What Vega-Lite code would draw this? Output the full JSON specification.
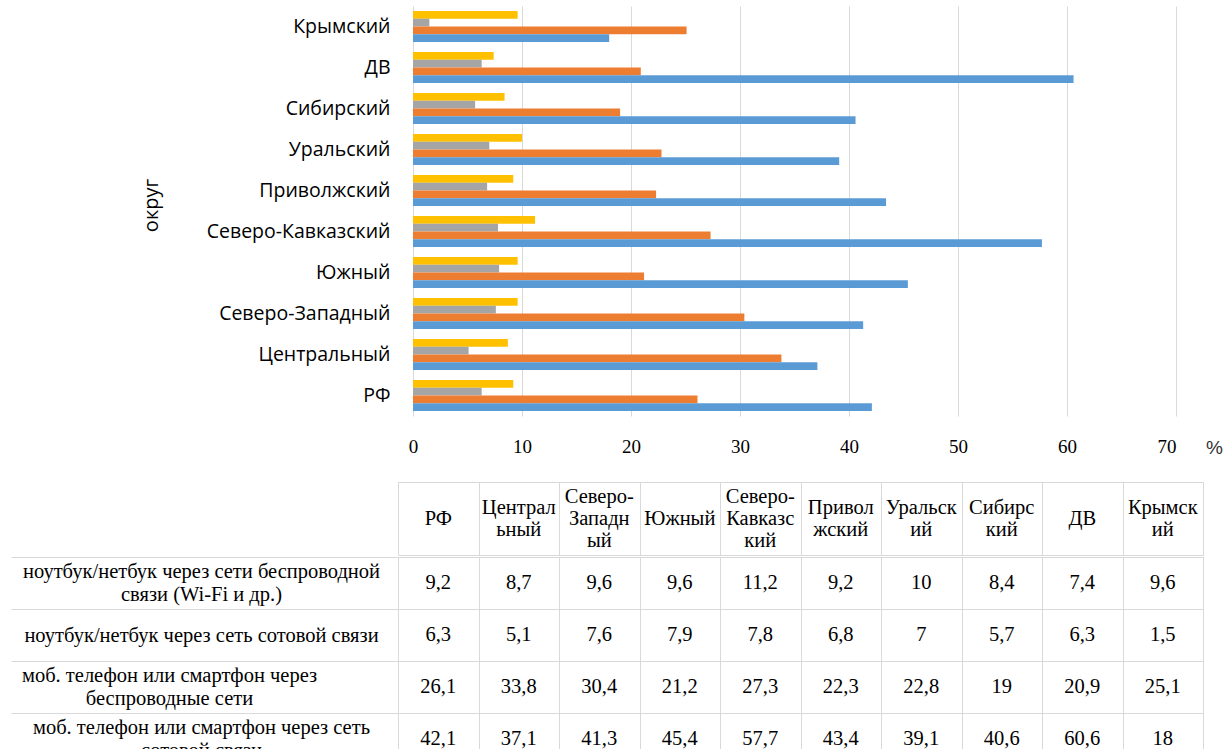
{
  "$schema": "https://vega.github.io/schema/vega-lite/v6.json",
  "padding": {"left": 10, "top": 6, "right": 0, "bottom": 0},
  "autosize": {"type": "pad"},
  "spacing": 0,
  "config": {
    "locale": {"number": {"decimal": ",", "thousands": " ", "grouping": [3], "currency": ["", ""]}},
    "view": {"stroke": null},
    "text": {"lineBreak": "\n"}
  },
  "datasets": {
    "main": [
      {"region": "РФ", "series": "ноутбук/нетбук через сети беспроводной\nсвязи (Wi-Fi и др.)", "value": 9.2},
      {"region": "РФ", "series": "ноутбук/нетбук через сеть сотовой связи", "value": 6.3},
      {"region": "РФ", "series": "моб. телефон или смартфон через\nбеспроводные сети", "value": 26.1},
      {"region": "РФ", "series": "моб. телефон или смартфон через сеть\nсотовой связи", "value": 42.1},
      {"region": "Центральный", "series": "ноутбук/нетбук через сети беспроводной\nсвязи (Wi-Fi и др.)", "value": 8.7},
      {"region": "Центральный", "series": "ноутбук/нетбук через сеть сотовой связи", "value": 5.1},
      {"region": "Центральный", "series": "моб. телефон или смартфон через\nбеспроводные сети", "value": 33.8},
      {"region": "Центральный", "series": "моб. телефон или смартфон через сеть\nсотовой связи", "value": 37.1},
      {"region": "Северо-Западный", "series": "ноутбук/нетбук через сети беспроводной\nсвязи (Wi-Fi и др.)", "value": 9.6},
      {"region": "Северо-Западный", "series": "ноутбук/нетбук через сеть сотовой связи", "value": 7.6},
      {"region": "Северо-Западный", "series": "моб. телефон или смартфон через\nбеспроводные сети", "value": 30.4},
      {"region": "Северо-Западный", "series": "моб. телефон или смартфон через сеть\nсотовой связи", "value": 41.3},
      {"region": "Южный", "series": "ноутбук/нетбук через сети беспроводной\nсвязи (Wi-Fi и др.)", "value": 9.6},
      {"region": "Южный", "series": "ноутбук/нетбук через сеть сотовой связи", "value": 7.9},
      {"region": "Южный", "series": "моб. телефон или смартфон через\nбеспроводные сети", "value": 21.2},
      {"region": "Южный", "series": "моб. телефон или смартфон через сеть\nсотовой связи", "value": 45.4},
      {"region": "Северо-Кавказский", "series": "ноутбук/нетбук через сети беспроводной\nсвязи (Wi-Fi и др.)", "value": 11.2},
      {"region": "Северо-Кавказский", "series": "ноутбук/нетбук через сеть сотовой связи", "value": 7.8},
      {"region": "Северо-Кавказский", "series": "моб. телефон или смартфон через\nбеспроводные сети", "value": 27.3},
      {"region": "Северо-Кавказский", "series": "моб. телефон или смартфон через сеть\nсотовой связи", "value": 57.7},
      {"region": "Приволжский", "series": "ноутбук/нетбук через сети беспроводной\nсвязи (Wi-Fi и др.)", "value": 9.2},
      {"region": "Приволжский", "series": "ноутбук/нетбук через сеть сотовой связи", "value": 6.8},
      {"region": "Приволжский", "series": "моб. телефон или смартфон через\nбеспроводные сети", "value": 22.3},
      {"region": "Приволжский", "series": "моб. телефон или смартфон через сеть\nсотовой связи", "value": 43.4},
      {"region": "Уральский", "series": "ноутбук/нетбук через сети беспроводной\nсвязи (Wi-Fi и др.)", "value": 10},
      {"region": "Уральский", "series": "ноутбук/нетбук через сеть сотовой связи", "value": 7},
      {"region": "Уральский", "series": "моб. телефон или смартфон через\nбеспроводные сети", "value": 22.8},
      {"region": "Уральский", "series": "моб. телефон или смартфон через сеть\nсотовой связи", "value": 39.1},
      {"region": "Сибирский", "series": "ноутбук/нетбук через сети беспроводной\nсвязи (Wi-Fi и др.)", "value": 8.4},
      {"region": "Сибирский", "series": "ноутбук/нетбук через сеть сотовой связи", "value": 5.7},
      {"region": "Сибирский", "series": "моб. телефон или смартфон через\nбеспроводные сети", "value": 19},
      {"region": "Сибирский", "series": "моб. телефон или смартфон через сеть\nсотовой связи", "value": 40.6},
      {"region": "ДВ", "series": "ноутбук/нетбук через сети беспроводной\nсвязи (Wi-Fi и др.)", "value": 7.4},
      {"region": "ДВ", "series": "ноутбук/нетбук через сеть сотовой связи", "value": 6.3},
      {"region": "ДВ", "series": "моб. телефон или смартфон через\nбеспроводные сети", "value": 20.9},
      {"region": "ДВ", "series": "моб. телефон или смартфон через сеть\nсотовой связи", "value": 60.6},
      {"region": "Крымский", "series": "ноутбук/нетбук через сети беспроводной\nсвязи (Wi-Fi и др.)", "value": 9.6},
      {"region": "Крымский", "series": "ноутбук/нетбук через сеть сотовой связи", "value": 1.5},
      {"region": "Крымский", "series": "моб. телефон или смартфон через\nбеспроводные сети", "value": 25.1},
      {"region": "Крымский", "series": "моб. телефон или смартфон через сеть\nсотовой связи", "value": 18}
    ],
    "regions": [
      {"region": "РФ", "header": "РФ"},
      {"region": "Центральный", "header": "Централ\nьный"},
      {"region": "Северо-Западный", "header": "Северо-\nЗападн\nый"},
      {"region": "Южный", "header": "Южный"},
      {"region": "Северо-Кавказский", "header": "Северо-\nКавказс\nкий"},
      {"region": "Приволжский", "header": "Привол\nжский"},
      {"region": "Уральский", "header": "Уральск\nий"},
      {"region": "Сибирский", "header": "Сибирс\nкий"},
      {"region": "ДВ", "header": "ДВ"},
      {"region": "Крымский", "header": "Крымск\nий"}
    ]
  },
  "vconcat": [
    {
      "width": 778,
      "height": 410,
      "data": {"name": "main"},
      "mark": {"type": "bar"},
      "encoding": {
        "y": {
          "field": "region",
          "type": "nominal",
          "sort": ["Крымский", "ДВ", "Сибирский", "Уральский", "Приволжский", "Северо-Кавказский", "Южный", "Северо-Западный", "Центральный", "РФ"],
          "scale": {"paddingInner": 0.24, "paddingOuter": 0.12},
          "axis": {
            "title": "округ",
            "titleFont": "Open Sans",
            "titleFontSize": 20,
            "titleFontWeight": "normal",
            "titleColor": "#000000",
            "titleX": -247,
            "titleY": 199,
            "titleAngle": -90,
            "titleAlign": "center",
            "titleBaseline": "middle",
            "labelFont": "Open Sans",
            "labelFontSize": 19.5,
            "labelColor": "#000000",
            "labelPadding": 8,
            "labelLimit": 0,
            "ticks": false,
            "domain": false,
            "grid": false
          }
        },
        "yOffset": {
          "field": "series",
          "type": "nominal",
          "sort": ["ноутбук/нетбук через сети беспроводной\nсвязи (Wi-Fi и др.)", "ноутбук/нетбук через сеть сотовой связи", "моб. телефон или смартфон через\nбеспроводные сети", "моб. телефон или смартфон через сеть\nсотовой связи"],
          "scale": {"paddingInner": 0, "paddingOuter": 0}
        },
        "x": {
          "field": "value",
          "type": "quantitative",
          "scale": {"domain": [-1.376, 70], "nice": false},
          "axis": {
            "values": [0, 10, 20, 30, 40, 50, 60, 70],
            "grid": true,
            "gridColor": "#D9D9D9",
            "domain": false,
            "ticks": false,
            "labelPadding": 21,
            "labelFont": "Liberation Sans Narrow",
            "labelFontSize": 19,
            "labelColor": "#000000",
            "title": "%",
            "titleX": 816,
            "titleY": 31,
            "titleAngle": 0,
            "titleAlign": "center",
            "titleBaseline": "middle",
            "titleFont": "Liberation Sans",
            "titleFontSize": 19,
            "titleFontWeight": "normal",
            "titleColor": "#333333"
          }
        },
        "color": {
          "field": "series",
          "type": "nominal",
          "scale": {
            "domain": ["ноутбук/нетбук через сети беспроводной\nсвязи (Wi-Fi и др.)", "ноутбук/нетбук через сеть сотовой связи", "моб. телефон или смартфон через\nбеспроводные сети", "моб. телефон или смартфон через сеть\nсотовой связи"],
            "range": ["#FFC000", "#A5A5A5", "#ED7D31", "#5B9BD5"]
          },
          "legend": null
        }
      }
    },
    {
      "width": 805,
      "height": 73,
      "data": {"name": "regions"},
      "view": {"stroke": "#D9D9D9"},
      "encoding": {
        "x": {
          "field": "region",
          "type": "nominal",
          "sort": ["РФ", "Центральный", "Северо-Западный", "Южный", "Северо-Кавказский", "Приволжский", "Уральский", "Сибирский", "ДВ", "Крымский"],
          "axis": {
            "orient": "top",
            "title": null,
            "labels": false,
            "domain": false,
            "ticks": true,
            "tickSize": 24,
            "tickOpacity": 0,
            "tickBand": "extent",
            "grid": true,
            "gridColor": "#D9D9D9"
          }
        },
        "text": {"field": "header", "type": "nominal"}
      },
      "layer": [
        {
          "transform": [{"filter": "length(split(datum.header, '\\n')) == 1"}],
          "mark": {"type": "text", "font": "Liberation Serif", "fontSize": 20.5, "color": "#000000", "lineHeight": 22, "dy": 0}
        },
        {
          "transform": [{"filter": "length(split(datum.header, '\\n')) == 2"}],
          "mark": {"type": "text", "font": "Liberation Serif", "fontSize": 20.5, "color": "#000000", "lineHeight": 22, "dy": -11}
        },
        {
          "transform": [{"filter": "length(split(datum.header, '\\n')) == 3"}],
          "mark": {"type": "text", "font": "Liberation Serif", "fontSize": 20.5, "color": "#000000", "lineHeight": 22, "dy": -22}
        }
      ]
    },
    {
      "width": 805,
      "height": 208,
      "data": {"name": "main"},
      "view": {"stroke": "#D9D9D9"},
      "mark": {"type": "text", "font": "Liberation Serif", "fontSize": 20.5, "color": "#000000"},
      "encoding": {
        "x": {
          "field": "region",
          "type": "nominal",
          "sort": ["РФ", "Центральный", "Северо-Западный", "Южный", "Северо-Кавказский", "Приволжский", "Уральский", "Сибирский", "ДВ", "Крымский"],
          "axis": {
            "title": null,
            "labels": false,
            "domain": false,
            "ticks": false,
            "tickBand": "extent",
            "grid": true,
            "gridColor": "#D9D9D9"
          }
        },
        "y": {
          "field": "series",
          "type": "nominal",
          "sort": ["ноутбук/нетбук через сети беспроводной\nсвязи (Wi-Fi и др.)", "ноутбук/нетбук через сеть сотовой связи", "моб. телефон или смартфон через\nбеспроводные сети", "моб. телефон или смартфон через сеть\nсотовой связи"],
          "axis": {
            "title": null,
            "domain": false,
            "grid": true,
            "gridColor": "#D9D9D9",
            "tickBand": "extent",
            "ticks": true,
            "tickSize": 387,
            "tickColor": "#D9D9D9",
            "labelAlign": "center",
            "labelBaseline": "middle",
            "labelPadding": {
              "condition": {"test": "isString(datum.value) && indexof(datum.value, 'беспроводные') >= 0", "value": -158},
              "value": -190
            },
            "labelOffset": {
              "condition": {"test": "isString(datum.value) && indexof(datum.value, '\\n') >= 0", "value": -11.5},
              "value": 0
            },
            "labelFont": "Liberation Serif",
            "labelFontSize": {
              "condition": {"test": "!isString(datum.value)", "value": 0},
              "value": 20.5
            },
            "labelColor": "#000000",
            "labelLimit": 0,
            "labelLineHeight": 23,
            "labelExpr": "isString(datum.value) ? split(datum.value, '\\n') : ''"
          }
        },
        "text": {"field": "value", "type": "quantitative", "format": "~g"}
      }
    }
  ]
}
